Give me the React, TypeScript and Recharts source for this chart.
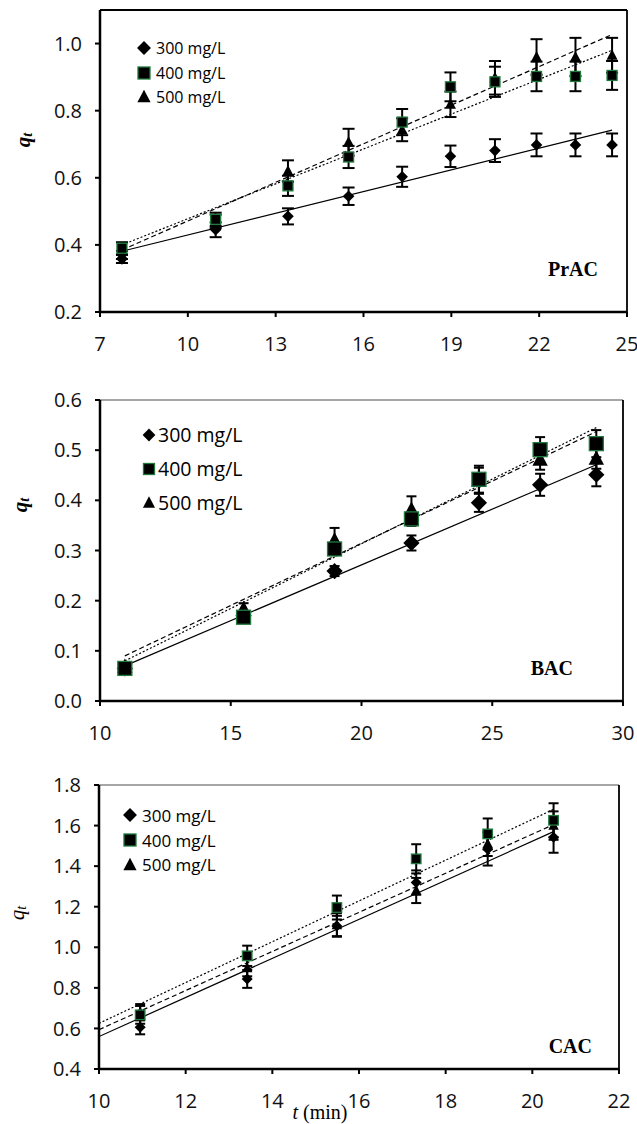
import React from 'react';
import { ComposedChart, Scatter, Line, XAxis, YAxis, ErrorBar, ReferenceLine, Legend } from 'recharts';

const concentrations = ['300 mg/L', '400 mg/L', '500 mg/L'];

// PrAC panel
const prX = [7.75, 10.95, 13.42, 15.49, 17.32, 18.97, 20.49, 21.91, 23.24, 24.49];
const pr300 = [0.358, 0.445, 0.485, 0.545, 0.603, 0.664, 0.681, 0.698, 0.698, 0.698];
const pr400 = [0.39, 0.476, 0.576, 0.662, 0.766, 0.871, 0.886, 0.902, 0.902, 0.905];
const pr500 = [0.37, 0.47, 0.62, 0.706, 0.743, 0.819, 0.898, 0.96, 0.96, 0.965];
const prErr300 = [0.012, 0.022, 0.024, 0.026, 0.03, 0.032, 0.034, 0.034, 0.034, 0.034];
const prErr400 = [0.018, 0.02, 0.03, 0.033, 0.039, 0.043, 0.045, 0.044, 0.044, 0.043];
const prErr500 = [0.012, 0.02, 0.032, 0.04, 0.034, 0.038, 0.05, 0.053, 0.057, 0.052];
const prFitX = [7.75, 24.49];
const prFit300 = [0.381, 0.742];
const prFit400 = [0.4, 0.98];
const prFit500 = [0.385, 1.027];
const prXTicks = [7, 10, 13, 16, 19, 22, 25];
const prYTicks = [0.2, 0.4, 0.6, 0.8, 1.0];

// BAC panel
const bX = [10.95, 15.49, 18.97, 21.91, 24.49, 26.83, 28.98];
const b300 = [0.065, 0.17, 0.259, 0.315, 0.395, 0.431, 0.451];
const b400 = [0.065, 0.167, 0.303, 0.363, 0.442, 0.501, 0.513];
const b500 = [0.068, 0.183, 0.32, 0.381, 0.44, 0.481, 0.483];
const bErr300 = [0.005, 0.008, 0.01, 0.015, 0.018, 0.022, 0.023];
const bErr400 = [0.005, 0.008, 0.012, 0.014, 0.027, 0.025, 0.027];
const bErr500 = [0.006, 0.012, 0.025, 0.027, 0.025, 0.02, 0.02];
const bFitX = [10.95, 28.98];
const bFit300 = [0.07, 0.471];
const bFit400 = [0.08, 0.545];
const bFit500 = [0.09, 0.537];
const bXTicks = [10, 15, 20, 25, 30];
const bYTicks = [0, 0.1, 0.2, 0.3, 0.4, 0.5, 0.6];

// CAC panel
const cX = [10.95, 13.42, 15.49, 17.32, 18.97, 20.49];
const c300 = [0.606, 0.844, 1.105, 1.319, 1.483, 1.542];
const c400 = [0.667, 0.958, 1.196, 1.436, 1.559, 1.626];
const c500 = [0.68, 0.897, 1.11, 1.28, 1.51, 1.6];
const cErr300 = [0.035, 0.044, 0.05, 0.06, 0.08, 0.076];
const cErr400 = [0.044, 0.05, 0.059, 0.072, 0.076, 0.084];
const cErr500 = [0.04, 0.04, 0.058, 0.062, 0.06, 0.07];
const cFitX = [10, 20.49];
const cFit300 = [0.56, 1.57];
const cFit400 = [0.625, 1.68];
const cFit500 = [0.594, 1.605];
const cXTicks = [10, 12, 14, 16, 18, 20, 22];
const cYTicks = [0.4, 0.6, 0.8, 1.0, 1.2, 1.4, 1.6, 1.8];

type Kind = 'diamond' | 'square' | 'triangle';
const kinds: Kind[] = ['diamond', 'square', 'triangle'];
const fitDash: (string | undefined)[] = [undefined, '2 2', '5 3'];
const GREEN = '#1f7a3c';
const SANS = "'Open Sans', sans-serif";
const SERIF = "'Liberation Serif', 'Times New Roman', serif";

const pts = (xs: number[], ys: number[], es: number[]) => xs.map((x, i) => ({ x, y: ys[i], e: es[i] }));
const fit = (xs: number[], ys: number[]) => xs.map((x, i) => ({ x, y: ys[i] }));

function Mark({ kind, cx, cy, s }: { kind: Kind; cx: number; cy: number; s: number }) {
  if (cx == null || cy == null) return <g />;
  if (kind === 'diamond') {
    const h = s * 0.58;
    return <polygon points={`${cx},${cy - h} ${cx + h},${cy} ${cx},${cy + h} ${cx - h},${cy}`} fill="#000" />;
  }
  if (kind === 'square') {
    const h = s / 2;
    return <rect x={cx - h} y={cy - h} width={s} height={s} fill="#000" stroke={GREEN} strokeWidth={1.3} />;
  }
  const h = s * 0.55;
  return <polygon points={`${cx},${cy - h * 1.1} ${cx + h},${cy + h * 0.8} ${cx - h},${cy + h * 0.8}`} fill="#000" />;
}

function LegendBox({ row, size, font, gap }: { row: number; size: number; font: number; gap: number }) {
  return (
    <div>
      {concentrations.map((c, i) => (
        <div key={c} style={{ height: row, display: 'flex', alignItems: 'center' }}>
          <svg width={14} height={16}>
            <Mark kind={kinds[i]} cx={7} cy={8} s={size} />
          </svg>
          <span style={{ marginLeft: gap, fontFamily: SANS, fontSize: font, color: '#000', lineHeight: 1 }}>{c}</span>
        </div>
      ))}
    </div>
  );
}

function QtTitle({ px, py, bold }: { px: number; py: number; bold: boolean }) {
  return (
    <text transform={`rotate(-90 ${px} ${py})`} x={px} y={py} textAnchor="middle" dominantBaseline="central"
      fontFamily={SERIF} fontSize={21} fontStyle="italic" fontWeight={bold ? 'bold' : 'normal'} fill="#000">
      q<tspan fontSize={14} dy={4}>t</tspan>
    </text>
  );
}

interface PanelProps {
  top: number;
  height: number;
  margin: { top: number; right: number; bottom: number; left: number };
  yWidth: number;
  xHeight: number;
  xDomain: [number, number];
  xTicks: number[];
  yDomain: [number, number];
  yTicks: number[];
  series: { x: number; y: number; e: number }[][];
  fits: { x: number; y: number }[][];
  markSize: number;
  capHalf: number;
  name: string;
  nameX: number;
  nameY: number;
  qt: { px: number; py: number; bold: boolean };
  legend: { left: number; top: number; row: number; size: number; font: number; gap: number };
  topBorder: string;
  xTitle?: { x: number; y: number };
}

function Panel(p: PanelProps) {
  const tick = { fontSize: 20, fill: '#111', fontFamily: SANS };
  const order = [0, 2, 1];
  return (
    <div style={{ position: 'absolute', left: 0, top: p.top }}>
      <ComposedChart width={637} height={p.height} margin={p.margin}>
        <XAxis type="number" dataKey="x" domain={p.xDomain} ticks={p.xTicks} allowDataOverflow
          axisLine={{ stroke: '#000', strokeWidth: 2.5 }} tickLine={{ stroke: '#000', strokeWidth: 2 }}
          tickSize={5} tickMargin={20} tick={tick} height={p.xHeight} interval={0}
          label={() => (
            <g>
              <text x={p.nameX} y={p.nameY} textAnchor="end" fontFamily={SERIF} fontWeight="bold" fontSize={20} fill="#000">{p.name}</text>
              {p.xTitle && (
                <text x={p.xTitle.x} y={p.xTitle.y} textAnchor="middle" fontFamily={SERIF} fontSize={20} fill="#000">
                  <tspan fontStyle="italic">t</tspan> (min)
                </text>
              )}
            </g>
          )} />
        <YAxis type="number" domain={p.yDomain} ticks={p.yTicks} allowDataOverflow width={p.yWidth}
          axisLine={{ stroke: '#000', strokeWidth: 2.5 }} tickLine={{ stroke: '#000', strokeWidth: 2 }}
          tickSize={5} tickMargin={13} tick={tick} interval={0}
          tickFormatter={(v: number) => v.toFixed(1)}
          label={() => <QtTitle px={p.qt.px} py={p.qt.py} bold={p.qt.bold} />} />
        <ReferenceLine y={p.yDomain[1]} stroke={p.topBorder} strokeWidth={p.topBorder === '#000' ? 2 : 1.5} />
        <ReferenceLine x={p.xDomain[1]} stroke="#000" strokeWidth={1.8} />
        <Legend layout="vertical" align="center" verticalAlign="middle"
          wrapperStyle={{ left: p.legend.left, top: p.legend.top, width: 'auto' }}
          content={() => <LegendBox row={p.legend.row} size={p.legend.size} font={p.legend.font} gap={p.legend.gap} />} />
        {p.fits.map((f, i) => (
          <Line key={`fit-${i}`} data={f} dataKey="y" stroke="#000" strokeWidth={1.2} strokeDasharray={fitDash[i]}
            dot={false} activeDot={false} isAnimationActive={false} legendType="none" />
        ))}
        {order.map((i) => (
          <Scatter key={concentrations[i]} name={concentrations[i]} data={p.series[i]} dataKey="y" isAnimationActive={false}
            shape={(s: any) => <Mark kind={kinds[i]} cx={s.cx} cy={s.cy} s={p.markSize} />}>
            <ErrorBar dataKey="e" direction="y" width={p.capHalf} stroke="#000" strokeWidth={2} />
          </Scatter>
        ))}
      </ComposedChart>
    </div>
  );
}

export default function App() {
  return (
    <div style={{ position: 'absolute', left: 0, top: 0, width: 637, height: 1124, background: '#fff' }}>
      <Panel top={0} height={360} margin={{ top: 10, right: 10, bottom: 0, left: 0 }} yWidth={100} xHeight={48}
        xDomain={[7, 25]} xTicks={prXTicks} yDomain={[0.2, 1.1]} yTicks={prYTicks}
        series={[pts(prX, pr300, prErr300), pts(prX, pr400, prErr400), pts(prX, pr500, prErr500)]}
        fits={[fit(prFitX, prFit300), fit(prFitX, prFit400), fit(prFitX, prFit500)]}
        markSize={10} capHalf={6} name="PrAC" nameX={598} nameY={276}
        qt={{ px: 23, py: 140, bold: true }}
        legend={{ left: 137, top: 36, row: 24.5, size: 12, font: 16, gap: 5 }} topBorder="#000" />
      <Panel top={380} height={372} margin={{ top: 20, right: 14, bottom: 0, left: 0 }} yWidth={100} xHeight={51}
        xDomain={[10, 30]} xTicks={bXTicks} yDomain={[0, 0.6]} yTicks={bYTicks}
        series={[pts(bX, b300, bErr300), pts(bX, b400, bErr400), pts(bX, b500, bErr500)]}
        fits={[fit(bFitX, bFit300), fit(bFitX, bFit400), fit(bFitX, bFit500)]}
        markSize={14} capHalf={5} name="BAC" nameX={573} nameY={295}
        qt={{ px: 20, py: 125, bold: true }}
        legend={{ left: 142, top: 38, row: 34, size: 11, font: 19.5, gap: 2 }} topBorder="#888" />
      <Panel top={760} height={364} margin={{ top: 25, right: 18, bottom: 0, left: 0 }} yWidth={99} xHeight={55}
        xDomain={[10, 22]} xTicks={cXTicks} yDomain={[0.4, 1.8]} yTicks={cYTicks}
        series={[pts(cX, c300, cErr300), pts(cX, c400, cErr400), pts(cX, c500, cErr500)]}
        fits={[fit(cFitX, cFit300), fit(cFitX, cFit400), fit(cFitX, cFit500)]}
        markSize={9.5} capHalf={5} name="CAC" nameX={592} nameY={293}
        qt={{ px: 17, py: 153, bold: false }}
        legend={{ left: 123, top: 43, row: 24.7, size: 12, font: 17, gap: 5 }} topBorder="#888"
        xTitle={{ x: 320, y: 359 }} />
    </div>
  );
}
